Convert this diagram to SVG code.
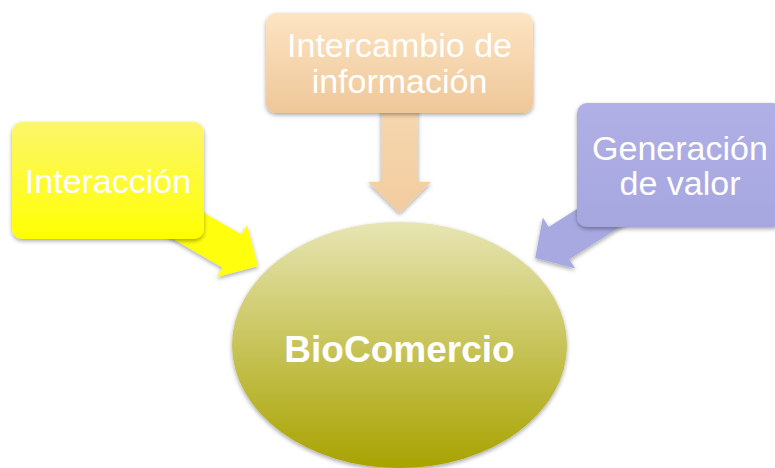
<svg xmlns="http://www.w3.org/2000/svg" width="775" height="468" viewBox="0 0 775 468">
<defs>
<linearGradient id="gY" x1="0" y1="0" x2="0" y2="1"><stop offset="0" stop-color="#fcf66c"/><stop offset="1" stop-color="#ffff00"/></linearGradient>
<linearGradient id="gO" x1="0" y1="0" x2="0" y2="1"><stop offset="0" stop-color="#fde4c3"/><stop offset="1" stop-color="#eec799"/></linearGradient>
<linearGradient id="gOA" x1="0" y1="0" x2="0" y2="1"><stop offset="0" stop-color="#f8dcb6"/><stop offset="1" stop-color="#f2cc9f"/></linearGradient>
<linearGradient id="gP" x1="0" y1="0" x2="0" y2="1"><stop offset="0" stop-color="#b0b0e6"/><stop offset="1" stop-color="#a7a7e0"/></linearGradient>
<linearGradient id="gE" x1="0" y1="0" x2="0" y2="1"><stop offset="0" stop-color="#e7e5b4"/><stop offset="1" stop-color="#a8a300"/></linearGradient>
<filter id="sh" x="-10%" y="-10%" width="120%" height="130%"><feDropShadow dx="0" dy="2" stdDeviation="2" flood-color="#000" flood-opacity="0.35"/></filter>
</defs>
<style>
.t{font-family:"Liberation Sans",Arial,sans-serif;font-size:34px;fill:#fff;text-anchor:middle}
.b{font-family:"Liberation Sans",Arial,sans-serif;font-size:37px;font-weight:bold;fill:#fff;text-anchor:middle}
</style>
<rect width="775" height="468" fill="#fff"/>
<g id="connectors" filter="url(#sh)">
<polygon fill="#ffff10" points="120.3,164.5 241.5,234.5 247,225 258,266 217,277 222.5,267.5 101.3,197.5"/>
<polygon fill="url(#gOA)" points="381,60 418,60 418,182 431,182 399.5,213 368,182 381,182"/>
<polygon fill="#a9a9e2" points="667.7,151.2 548.7,226.9 542.8,217.5 535.2,258.1 575.2,268.5 569.3,259.2 688.3,183.6"/>
</g>
<g id="biocomercio">
<ellipse cx="399.5" cy="345" rx="167.5" ry="123" fill="url(#gE)" filter="url(#sh)"/>
<text class="b" x="399.5" y="362">BioComercio</text>
</g>
<g id="interaccion">
<rect x="12" y="122" width="192" height="117" rx="10" fill="url(#gY)" filter="url(#sh)"/>
<text class="t" x="108" y="193">Interacción</text>
</g>
<g id="intercambio">
<rect x="266" y="13" width="267" height="100" rx="10" fill="url(#gO)" filter="url(#sh)"/>
<text class="t" x="399.5" y="57">Intercambio de</text>
<text class="t" x="399.5" y="93">información</text>
</g>
<g id="generacion">
<rect x="577" y="103" width="206" height="124" rx="10" fill="url(#gP)" filter="url(#sh)"/>
<text class="t" x="680" y="160">Generación</text>
<text class="t" x="680" y="195">de valor</text>
</g>
</svg>
